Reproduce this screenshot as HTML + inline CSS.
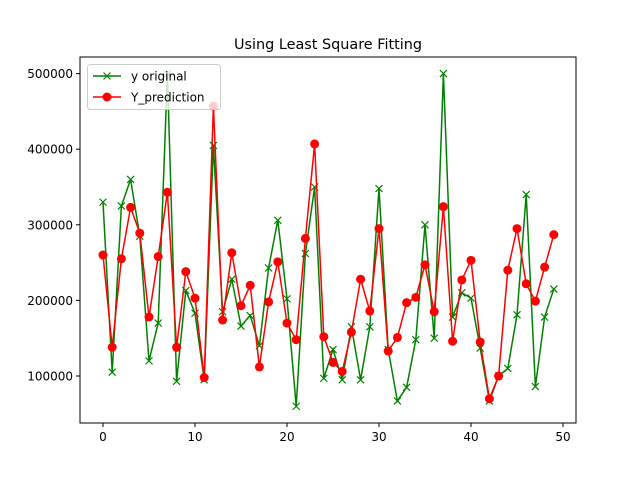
<!DOCTYPE html>
<html><head><meta charset="utf-8"><style>
body{margin:0;background:#fff;}
svg text{font-family:"DejaVu Sans","Liberation Sans",sans-serif;}
</style></head><body>
<svg id="chart" width="640" height="476" xmlns="http://www.w3.org/2000/svg">
<rect width="640" height="476" fill="#fff"/>
<text x="328" y="49" text-anchor="middle" font-size="14.4" fill="#000">Using Least Square Fitting</text>
<g id="marks"></g>
<g id="axes"></g>
</svg>
<script>
const xTicks=[0,10,20,30,40,50];
const yTicks=[100000,200000,300000,400000,500000];
const yOriginal=[330000,105000,325000,360000,285000,120000,170000,500000,93000,213000,183000,95000,405000,185000,228000,166000,180000,140000,243000,306000,202000,60000,262000,350000,97000,135000,95000,165000,95000,165000,348000,135000,67000,85000,148000,300000,150000,500000,178000,210000,203000,137000,67000,100000,110000,181000,340000,86000,178000,215000];
const yPred=[260000,138000,255000,323000,289000,178000,258000,343000,138000,238000,203000,98000,457000,174000,263000,193000,220000,112000,198000,251000,170000,148000,282000,407000,152000,118000,106000,158000,228000,186000,295000,133000,151000,197000,204000,247000,185000,324000,146000,227000,253000,145000,70000,100000,240000,295000,222000,199000,244000,287000];
const NS='http://www.w3.org/2000/svg';
const L=80,R=576,T=57,B=423;
function xs(v){return 103+v*9.2;}
function ys(v){return 376-(v-100000)/100000*75.6;}
function mk(t,a,p){const e=document.createElementNS(NS,t);for(const k in a)e.setAttribute(k,a[k]);p.appendChild(e);return e;}
const marks=document.getElementById('marks'),axes=document.getElementById('axes');
const g1=mk('polyline',{points:yOriginal.map((v,i)=>xs(i)+','+ys(v)).join(' '),fill:'none',stroke:'#008000','stroke-width':1.5},marks);


yOriginal.forEach((v,i)=>{const x=xs(i),y=ys(v);
const m=mk('path',{d:`M${x-3.5},${y-3.5}L${x+3.5},${y+3.5}M${x-3.5},${y+3.5}L${x+3.5},${y-3.5}`,stroke:'#008000','stroke-width':1.2},marks);

});
const r1=mk('polyline',{points:yPred.map((v,i)=>xs(i)+','+ys(v)).join(' '),fill:'none',stroke:'#ff0000','stroke-width':1.5},marks);


yPred.forEach((v,i)=>{const c=mk('circle',{cx:xs(i),cy:ys(v),r:4.5,fill:'#ff0000'},marks);

});
const fr=mk('rect',{x:L,y:T,width:R-L,height:B-T,fill:'none',stroke:'#000','stroke-width':1},axes);


xTicks.forEach(t=>{const x=xs(t);mk('line',{x1:x,y1:B,x2:x,y2:B+4,stroke:'#000'},axes);
const tx=mk('text',{x:x,y:B+18,'text-anchor':'middle','font-size':12},axes);tx.textContent=t;

});
yTicks.forEach(t=>{const y=ys(t);mk('line',{x1:L-4,y1:y,x2:L,y2:y,stroke:'#000'},axes);
const tx=mk('text',{x:L-7,y:y+4.5,'text-anchor':'end','font-size':12},axes);tx.textContent=t;

});
</script>
<svg style="position:absolute;left:0;top:0" width="640" height="476">
<rect x="87.5" y="64.5" width="133" height="45" rx="3" fill="#fff" fill-opacity="0.8" stroke="#ccc"/>
<line x1="93" y1="76" x2="121" y2="76" stroke="#008000" stroke-width="1.5"/>
<path d="M103.5,72.5L110.5,79.5M103.5,79.5L110.5,72.5" stroke="#008000" stroke-width="1.2"/>
<text x="131" y="80.5" font-size="12" font-family="DejaVu Sans, Liberation Sans, sans-serif">y original</text>
<line x1="93" y1="97" x2="121" y2="97" stroke="#ff0000" stroke-width="1.5"/>
<circle cx="107" cy="97" r="4.5" fill="#ff0000"/>
<text x="131" y="101.5" font-size="12" font-family="DejaVu Sans, Liberation Sans, sans-serif">Y_prediction</text>
</svg>
</body></html>
